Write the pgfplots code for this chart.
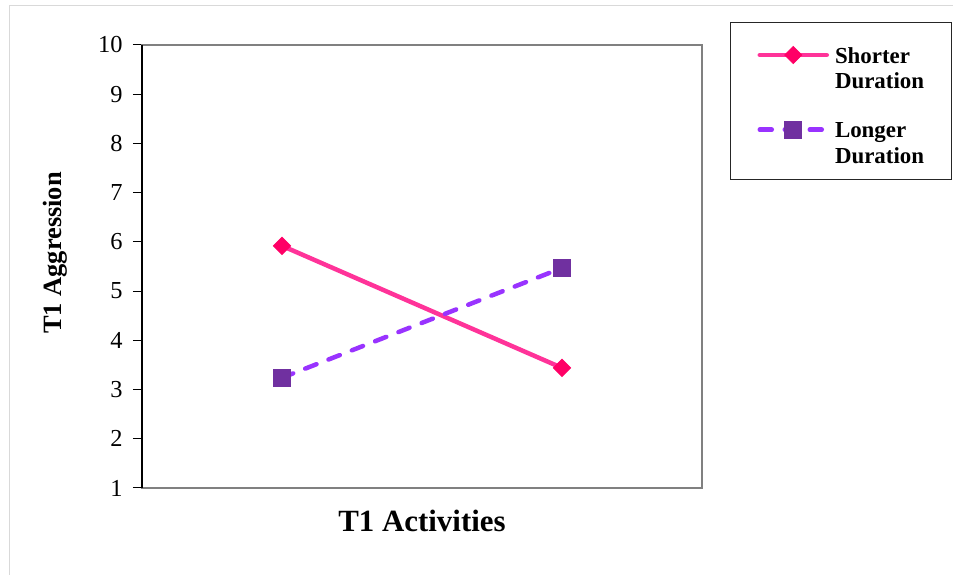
\documentclass[border=0pt]{standalone}
\usepackage{pgfplots}
\pgfplotsset{compat=1.18}
\usepackage{fontspec}
\setmainfont{Liberation Serif}
\definecolor{pinkline}{RGB}{255,51,153}
\definecolor{pinkmark}{RGB}{255,0,102}
\definecolor{purpline}{RGB}{153,51,255}
\definecolor{purpmark}{RGB}{112,48,160}
\definecolor{framegray}{RGB}{217,217,217}
\definecolor{boxgray}{RGB}{128,128,128}
\newcommand\twoline[2]{\vtop{\hbox{#1}\hbox{#2}}}
\begin{document}
\begin{tikzpicture}
\useasboundingbox (0,0) rectangle (953bp,575bp);
\draw[framegray, line width=1bp] (9bp,0) -- (9bp,569bp) -- (953bp,569bp);
\begin{axis}[
  at={(142bp,87bp)}, anchor=south west,
  scale only axis, width=560bp, height=443bp,
  xmin=0.5, xmax=2.5, ymin=1, ymax=10,
  xtick=\empty, ytick={1,2,...,10},
  axis line style={boxgray, line width=2.5bp},
  ytick pos=left, tick align=outside, major tick length=9bp,
  tick style={black, line width=1bp},
  yticklabel style={font=\fontsize{24.5}{28}\selectfont, xshift=-7bp},
  /pgf/number format/assume math mode=true,
  xlabel={T1 Activities}, ylabel={T1 Aggression},
  xlabel style={font=\bfseries\fontsize{31}{36}\selectfont, at={(axis description cs:0.5,-0.0986)}, anchor=base},
  ylabel style={font=\bfseries\fontsize{26.5}{30}\selectfont, at={(axis description cs:-0.1429,0.5305)}, anchor=base},
  clip=false,
  legend style={at={(axis description cs:1.05,1.0519)}, anchor=north west,
    draw=black!85, line width=1bp, inner xsep=27bp, inner ysep=0pt,
    font=\bfseries\fontsize{23}{26}\selectfont,
    cells={anchor=base west}, nodes={inner sep=0pt, text depth=, text height=},
    column sep=6bp, row sep=32bp},
  legend image code/.code={\draw[mark repeat=2, mark phase=2, #1] plot coordinates {(2bp,8bp) (35.5bp,8bp) (69bp,8bp)};},
  after end axis/.code={\draw[black, line width=1.5bp] (rel axis cs:0,0) -- (rel axis cs:0,1);},
]
\addplot[pinkline, line width=4.5bp, line cap=round, mark=square*, mark size=6bp,
  mark options={solid, fill=pinkmark, draw=pinkmark, line width=1bp, rotate=45}]
  coordinates {(1,5.92) (2,3.44)};
\addlegendentry{\twoline{\rule{0pt}{40.5bp}Shorter}{Duration}}
\addplot[purpline, line width=4.5bp, line cap=round, dash pattern=on 12bp off 13bp, mark=square*, mark size=8.5bp,
  mark options={solid, fill=purpmark, draw=purpmark, line width=1bp}]
  coordinates {(1,3.24) (2,5.47)};
\addlegendentry{\twoline{Longer}{Duration\rule[-15.5bp]{0pt}{15.5bp}}}
\end{axis}
\end{tikzpicture}
\end{document}
